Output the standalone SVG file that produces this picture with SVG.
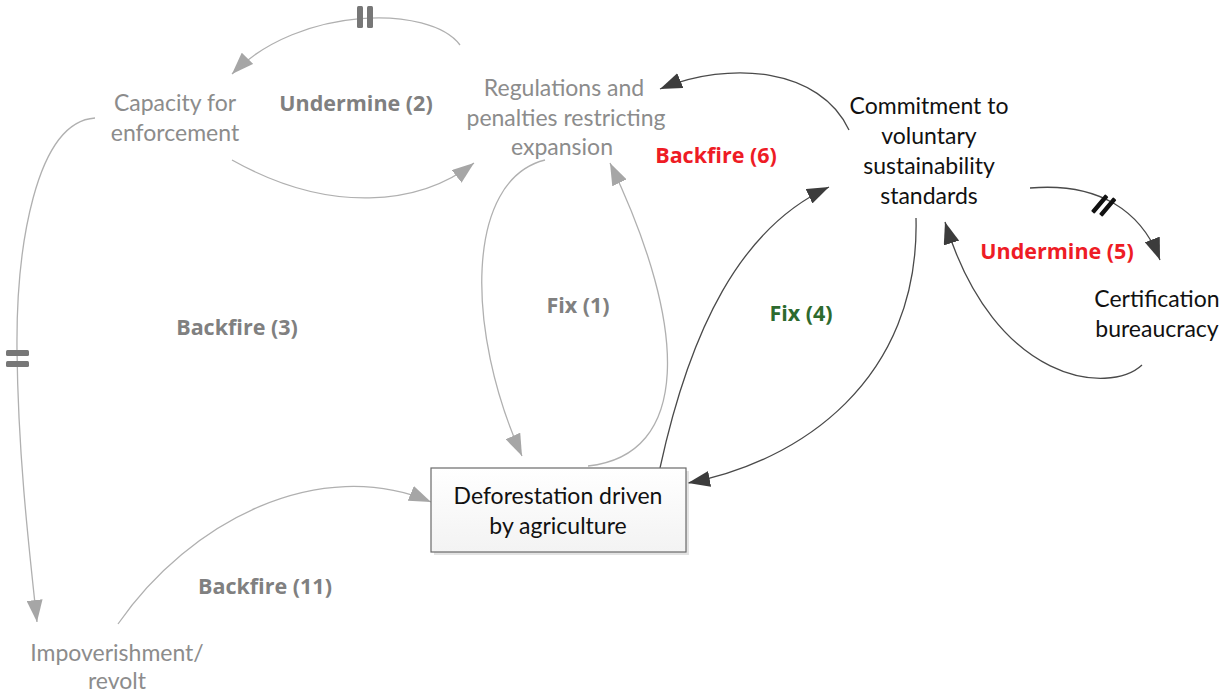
<svg xmlns="http://www.w3.org/2000/svg" width="1224" height="694" viewBox="0 0 1224 694">
  <style>
    text { font-family: Lato, "Liberation Sans", sans-serif; text-anchor: middle; }
    .node { font-size: 23px; }
    .faded { fill: #8c8c8c; }
    .dark { fill: #111; }
    .lbl text { font-family: "Open Sans", "Liberation Sans", sans-serif; font-size: 21.5px; font-weight: bold; }
    .lbl-gray { fill: #808080; }
    .lbl-red { fill: #ee1c25; }
    .lbl-green { fill: #2d6a2e; }
    .link { fill: none; stroke-width: 1.3; }
    .link-gray { stroke: #b0b0b0; marker-end: url(#arrow-gray); }
    .link-dark { stroke: #4a4a4a; marker-end: url(#arrow-dark); }
    .delay-gray { fill: #777; }
    .delay-dark { fill: #111; }
  </style>
  <defs>
    <marker id="arrow-gray" markerWidth="24" markerHeight="16" refX="22" refY="8" orient="auto" markerUnits="userSpaceOnUse">
      <path d="M0,0 L22,8 L0,16 Z" fill="#a6a6a6"/>
    </marker>
    <marker id="arrow-dark" markerWidth="24" markerHeight="16" refX="22" refY="8" orient="auto" markerUnits="userSpaceOnUse">
      <path d="M0,0 L22,8 L0,16 Z" fill="#3c3c3c"/>
    </marker>
    <linearGradient id="box-fill" x1="0" y1="0" x2="0" y2="1">
      <stop offset="0" stop-color="#ffffff"/>
      <stop offset="1" stop-color="#f3f3f3"/>
    </linearGradient>
  </defs>

  <!-- connectors -->
  <g id="connectors">
    <!-- Regulations -> Capacity (delayed) -->
    <path class="link link-gray" d="M460,45 C430,5 300,5 232,74"/>
    <!-- Capacity -> Regulations -->
    <path class="link link-gray" d="M232,160 C330,215 420,205 474,163"/>
    <!-- Capacity -> Impoverishment (delayed) -->
    <path class="link link-gray" d="M95,118 C35,122 16,250 17,350 C18,450 28,540 37,622"/>
    <!-- Impoverishment -> Deforestation -->
    <path class="link link-gray" d="M118,624 C190,520 320,455 431,502"/>
    <!-- Regulations -> Deforestation -->
    <path class="link link-gray" d="M545,160 C465,180 465,330 522,456"/>
    <!-- Deforestation -> Regulations -->
    <path class="link link-gray" d="M588,466 C690,455 690,330 610,163"/>
    <!-- Deforestation -> Commitment -->
    <path class="link link-dark" d="M660,468 C690,330 740,228 829,187"/>
    <!-- Commitment -> Deforestation -->
    <path class="link link-dark" d="M916,218 C920,380 800,462 688,483"/>
    <!-- Commitment -> Regulations -->
    <path class="link link-dark" d="M849,130 C820,68 730,60 660,89"/>
    <!-- Commitment -> Certification (delayed) -->
    <path class="link link-dark" d="M1030,188 C1100,182 1142,212 1160,260"/>
    <!-- Certification -> Commitment -->
    <path class="link link-dark" d="M1142,365 C1110,395 995,385 945,222"/>

    <!-- delay marks -->
    <g class="delay-gray">
      <rect x="357" y="6" width="6" height="22" rx="1.5"/>
      <rect x="367" y="6" width="6" height="22" rx="1.5"/>
      <rect x="6" y="350" width="23" height="6" rx="1.5"/>
      <rect x="6" y="361" width="23" height="6" rx="1.5"/>
    </g>
    <g class="delay-dark">
      <rect x="1097.5" y="193" width="4.5" height="22" rx="1" transform="rotate(40 1099.75 204)"/>
      <rect x="1105.5" y="196" width="4.5" height="22" rx="1" transform="rotate(40 1107.75 207)"/>
    </g>
  </g>

  <!-- loop labels -->
  <g id="loop-labels" class="lbl">
    <text class="lbl-gray" x="356" y="111">Undermine (2)</text>
    <text class="lbl-red" x="716" y="163">Backfire (6)</text>
    <text class="lbl-gray" x="578" y="313">Fix (1)</text>
    <text class="lbl-green" x="801" y="321">Fix (4)</text>
    <text class="lbl-red" x="1057" y="259">Undermine (5)</text>
    <text class="lbl-gray" x="237" y="335">Backfire (3)</text>
    <text class="lbl-gray" x="265" y="594">Backfire (11)</text>
  </g>

  <!-- nodes -->
  <g id="capacity" class="node faded">
    <text x="175" y="111">Capacity for</text>
    <text x="175" y="141">enforcement</text>
  </g>
  <g id="regulations" class="node faded">
    <text x="564" y="96">Regulations and</text>
    <text x="566" y="126">penalties restricting</text>
    <text x="562" y="155">expansion</text>
  </g>
  <g id="commitment" class="node dark">
    <text x="929" y="114">Commitment to</text>
    <text x="929" y="144">voluntary</text>
    <text x="929" y="174">sustainability</text>
    <text x="929" y="204">standards</text>
  </g>
  <g id="certification" class="node dark">
    <text x="1157" y="307">Certification</text>
    <text x="1157" y="337">bureaucracy</text>
  </g>
  <g id="impoverishment" class="node faded">
    <text x="117" y="661">Impoverishment/</text>
    <text x="117" y="689">revolt</text>
  </g>
  <g id="deforestation" class="node dark">
    <rect x="434" y="471" width="255" height="84" fill="#d0d0d0" opacity="0.6"/>
    <rect x="431" y="468" width="255" height="84" fill="url(#box-fill)" stroke="#6a6a6a" stroke-width="1.2"/>
    <text x="558" y="504">Deforestation driven</text>
    <text x="558" y="534">by agriculture</text>
  </g>
</svg>
